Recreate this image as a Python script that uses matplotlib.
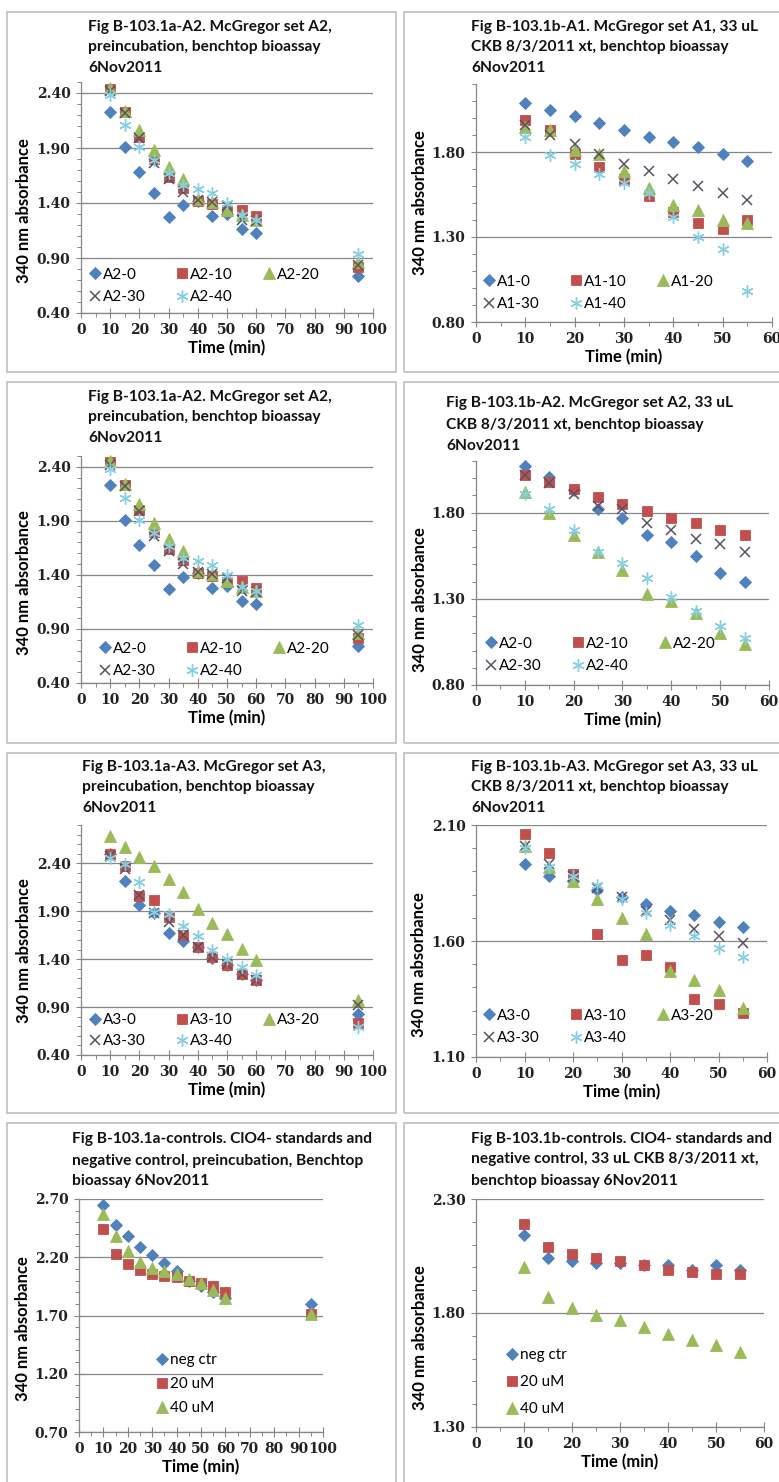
import matplotlib

matplotlib.use("Agg")
import matplotlib.pyplot as plt  # noqa: E402
import numpy as np  # noqa: E402
from matplotlib.patches import Rectangle  # noqa: E402

# ---- data -----------------------------------------------------------------
t_pre = [10, 15, 20, 25, 30, 35, 40, 45, 50, 55, 60, 95]
t_ckb = [10, 15, 20, 25, 30, 35, 40, 45, 50, 55]

# set A2, preincubation
a2_pre_0 = [2.23, 1.91, 1.68, 1.49, 1.27, 1.38, 1.42, 1.28, 1.30, 1.16, 1.13, 0.74]
a2_pre_10 = [2.44, 2.23, 2.00, 1.80, 1.64, 1.54, 1.42, 1.39, 1.33, 1.34, 1.28, 0.82]
a2_pre_20 = [2.45, 2.24, 2.06, 1.88, 1.73, 1.62, 1.44, 1.41, 1.34, 1.29, 1.25, 0.86]
a2_pre_30 = [2.42, 2.22, 1.99, 1.76, 1.62, 1.50, 1.43, 1.41, 1.37, 1.25, 1.24, 0.84]
a2_pre_40 = [2.38, 2.11, 1.91, 1.79, 1.67, 1.56, 1.53, 1.49, 1.40, 1.29, 1.25, 0.94]

# set A1, 33 uL CKB
a1_ckb_0 = [2.09, 2.05, 2.01, 1.97, 1.93, 1.89, 1.86, 1.83, 1.79, 1.75]
a1_ckb_10 = [1.99, 1.93, 1.79, 1.71, 1.64, 1.54, 1.45, 1.38, 1.35, 1.40]
a1_ckb_20 = [1.95, 1.93, 1.81, 1.79, 1.69, 1.59, 1.49, 1.46, 1.40, 1.38]
a1_ckb_30 = [1.96, 1.90, 1.85, 1.79, 1.73, 1.69, 1.64, 1.60, 1.56, 1.52]
a1_ckb_40 = [1.89, 1.78, 1.73, 1.67, 1.62, 1.56, 1.42, 1.30, 1.23, 0.98]

# set A2, 33 uL CKB
a2_ckb_0 = [2.07, 2.01, 1.93, 1.82, 1.77, 1.67, 1.63, 1.55, 1.45, 1.40]
a2_ckb_10 = [2.02, 1.98, 1.94, 1.89, 1.85, 1.81, 1.77, 1.74, 1.70, 1.67]
a2_ckb_20 = [1.92, 1.80, 1.67, 1.57, 1.47, 1.33, 1.29, 1.22, 1.10, 1.04]
a2_ckb_30 = [2.02, 1.97, 1.91, 1.84, 1.82, 1.74, 1.70, 1.65, 1.62, 1.57]
a2_ckb_40 = [1.91, 1.82, 1.70, 1.57, 1.51, 1.42, 1.31, 1.23, 1.14, 1.07]

# set A3, preincubation
a3_pre_0 = [2.50, 2.22, 1.96, 1.88, 1.67, 1.59, 1.53, 1.41, 1.34, 1.25, 1.18, 0.83]
a3_pre_10 = [2.50, 2.37, 2.06, 2.02, 1.84, 1.65, 1.53, 1.42, 1.34, 1.25, 1.18, 0.73]
a3_pre_20 = [2.68, 2.57, 2.47, 2.37, 2.24, 2.10, 1.92, 1.78, 1.66, 1.51, 1.39, 0.97]
a3_pre_30 = [2.48, 2.34, 2.07, 1.88, 1.79, 1.65, 1.53, 1.42, 1.35, 1.25, 1.18, 0.92]
a3_pre_40 = [2.46, 2.39, 2.20, 1.89, 1.87, 1.75, 1.64, 1.50, 1.40, 1.32, 1.23, 0.69]

# set A3, 33 uL CKB
a3_ckb_0 = [1.93, 1.88, 1.86, 1.82, 1.79, 1.76, 1.73, 1.71, 1.68, 1.66]
a3_ckb_10 = [2.06, 1.98, 1.89, 1.63, 1.52, 1.54, 1.49, 1.35, 1.33, 1.29]
a3_ckb_20 = [2.01, 1.92, 1.86, 1.78, 1.70, 1.63, 1.47, 1.43, 1.39, 1.31]
a3_ckb_30 = [2.01, 1.93, 1.88, 1.83, 1.79, 1.73, 1.69, 1.65, 1.62, 1.59]
a3_ckb_40 = [2.00, 1.92, 1.88, 1.84, 1.78, 1.72, 1.67, 1.62, 1.57, 1.53]

# controls
ctl_pre_neg = [2.65, 2.48, 2.38, 2.29, 2.22, 2.15, 2.08, 2.00, 1.95, 1.90, 1.85, 1.80]
ctl_pre_20 = [2.44, 2.23, 2.14, 2.09, 2.06, 2.04, 2.03, 2.00, 1.98, 1.95, 1.90, 1.71]
ctl_pre_40 = [2.57, 2.38, 2.25, 2.16, 2.11, 2.08, 2.06, 2.01, 1.98, 1.92, 1.85, 1.71]
ctl_ckb_neg = [2.14, 2.04, 2.03, 2.02, 2.02, 2.01, 2.01, 1.99, 2.01, 1.99]
ctl_ckb_20 = [2.19, 2.09, 2.06, 2.04, 2.03, 2.01, 1.99, 1.98, 1.97, 1.97]
ctl_ckb_40 = [2.00, 1.87, 1.82, 1.79, 1.77, 1.74, 1.71, 1.68, 1.66, 1.63]

labels_a1 = ["A1-0", "A1-10", "A1-20", "A1-30", "A1-40"]
labels_a2 = ["A2-0", "A2-10", "A2-20", "A2-30", "A2-40"]
labels_a3 = ["A3-0", "A3-10", "A3-20", "A3-30", "A3-40"]
labels_ctl = ["neg ctr", "20 uM", "40 uM"]

titles = [
    "Fig B-103.1a-A2. McGregor set A2,\npreincubation, benchtop bioassay\n6Nov2011",
    "Fig B-103.1b-A1. McGregor set A1, 33 uL\nCKB 8/3/2011 xt, benchtop bioassay\n6Nov2011",
    "Fig B-103.1a-A2. McGregor set A2,\npreincubation, benchtop bioassay\n6Nov2011",
    "Fig B-103.1b-A2. McGregor set A2, 33 uL\nCKB 8/3/2011 xt, benchtop bioassay\n6Nov2011",
    "Fig B-103.1a-A3. McGregor set A3,\npreincubation, benchtop bioassay\n6Nov2011",
    "Fig B-103.1b-A3. McGregor set A3, 33 uL\nCKB 8/3/2011 xt, benchtop bioassay\n6Nov2011",
    "Fig B-103.1a-controls. ClO4- standards and\nnegative control, preincubation, Benchtop\nbioassay 6Nov2011",
    "Fig B-103.1b-controls. ClO4- standards and\nnegative control, 33 uL CKB 8/3/2011 xt,\nbenchtop bioassay 6Nov2011",
]

# ---- styles ---------------------------------------------------------------
W, H = 779, 1482
GREY = "#868686"
STYLES = [
    dict(marker="D", color="#4F81BD", ms=6.4),
    dict(marker="s", color="#C0504D", ms=7.8),
    dict(marker="^", color="#9BBB59", ms=8.0),
    dict(marker="x", color="#5a5060", ms=7.2, mew=1.1),
    dict(marker=(6, 2, 0), color="#86cfe3", ms=8.8, mew=1.0),
]
SANS = "Lato"
SERIF = "DejaVu Serif"

fig = plt.figure(figsize=(W / 100, H / 100), dpi=100)
fig.patch.set_facecolor("white")

# panel frames (pixels: x0, y0, x1, y1)
frames = [
    (7, 12, 396, 372), (404, 12, 790, 372),
    (7, 382, 396, 743), (404, 382, 790, 743),
    (7, 753, 396, 1113), (404, 753, 790, 1113),
    (7, 1123, 396, 1490), (404, 1123, 790, 1490),
]
for x0, y0, x1, y1 in frames:
    fig.add_artist(Rectangle((x0 / W, 1 - y1 / H), (x1 - x0) / W, (y1 - y0) / H,
                             transform=fig.transFigure, fill=False,
                             edgecolor="#c4c4c4", lw=1.3))

# axes boxes in pixels: x0, x1, y_top(ymax), y_bottom(ymin), ylim, xmax
axes_spec = [
    (81, 373, 82, 313, (0.4, 2.5), 100),
    (476, 772, 84, 322, (0.8, 2.2), 60),
    (81, 373, 456, 683, (0.4, 2.5), 100),
    (476, 769, 461, 685, (0.8, 2.1), 60),
    (81, 373, 825, 1055, (0.4, 2.8), 100),
    (476, 767, 825, 1057, (1.1, 2.1), 60),
    (79, 323, 1199, 1432, (0.7, 2.7), 100),
    (476, 764, 1199, 1427, (1.3, 2.3), 60),
]
# title anchor (left x, centre of first line y) in pixels
title_pos = [(88, 25), (471, 25), (88, 395), (446, 402),
             (82, 765), (471, 765), (72, 1138), (471, 1137)]
# y-label centre (pixels, vertical)
ylabel_y = [211, 203, 583, 600, 951, 965, 1329, 1338]
# legend anchor: first marker centre x, last row centre y (pixels)
legend_pos = [(95, 296), (489, 303), (105, 670), (491, 665),
              (95, 1040), (489, 1037), (162, 1407), (512, 1408)]
# legend row spacing (in font-size units)
legend_gap = [0.55, 0.55, 0.55, 0.55, 0.45, 0.55, 0.65, 0.85]

panels = [
    (t_pre, [a2_pre_0, a2_pre_10, a2_pre_20, a2_pre_30, a2_pre_40], labels_a2),
    (t_ckb, [a1_ckb_0, a1_ckb_10, a1_ckb_20, a1_ckb_30, a1_ckb_40], labels_a1),
    (t_pre, [a2_pre_0, a2_pre_10, a2_pre_20, a2_pre_30, a2_pre_40], labels_a2),
    (t_ckb, [a2_ckb_0, a2_ckb_10, a2_ckb_20, a2_ckb_30, a2_ckb_40], labels_a2),
    (t_pre, [a3_pre_0, a3_pre_10, a3_pre_20, a3_pre_30, a3_pre_40], labels_a3),
    (t_ckb, [a3_ckb_0, a3_ckb_10, a3_ckb_20, a3_ckb_30, a3_ckb_40], labels_a3),
    (t_pre, [ctl_pre_neg, ctl_pre_20, ctl_pre_40], labels_ctl),
    (t_ckb, [ctl_ckb_neg, ctl_ckb_20, ctl_ckb_40], labels_ctl),
]

for i, (x, series, labels) in enumerate(panels):
    x0, x1, yt, yb, ylim, xmax = axes_spec[i]
    ax = fig.add_axes([x0 / W, 1 - yb / H, (x1 - x0) / W, (yb - yt) / H])
    ax.set_xlim(0, xmax)
    ax.set_ylim(*ylim)

    handles = []
    for s, y, lab in zip(STYLES, series, labels):
        (h,) = ax.plot(x, y, linestyle="none", marker=s["marker"], ms=s["ms"],
                       color=s["color"], mec=s["color"], mew=s.get("mew", 0.6),
                       label=lab, clip_on=False, zorder=3)
        handles.append(h)

    ax.set_yticks(np.arange(ylim[0], ylim[1] + 1e-6, 0.5))
    ax.set_yticks(np.arange(ylim[0], ylim[1] + 1e-6, 0.1), minor=True)
    ax.set_xticks(np.arange(0, xmax + 1, 10))
    ax.set_xticks(np.arange(0, xmax + 1, 5), minor=True)
    ax.yaxis.set_major_formatter(matplotlib.ticker.FormatStrFormatter("%.2f"))
    ax.grid(axis="y", which="major", color=GREY, lw=0.9)
    ax.set_axisbelow(True)
    for side in ("top", "right"):
        ax.spines[side].set_visible(False)
    for side in ("left", "bottom"):
        ax.spines[side].set_color(GREY)
        ax.spines[side].set_linewidth(0.9)
    ax.tick_params(which="major", direction="inout", length=7, width=0.8, color=GREY,
                   labelsize=10, pad=4)
    ax.tick_params(which="minor", direction="out", length=3, width=0.7, color=GREY)
    for lab in ax.get_xticklabels() + ax.get_yticklabels():
        lab.set_family(SERIF)
        lab.set_fontweight("bold")
        lab.set_color("#222222")

    ax.set_xlabel("Time (min)", family=SANS, fontweight="bold", fontsize=12,
                  labelpad=2)
    ax.set_ylabel("340 nm absorbance", family=SANS, fontweight="bold", fontsize=12,
                  labelpad=3, y=(yb - ylabel_y[i]) / (yb - yt))

    # title: one text per line so the line pitch matches Excel's 21 px
    tx, ty = title_pos[i]
    for k, line in enumerate(titles[i].split("\n")):
        fig.text(tx / W, 1 - (ty + 21 * k) / H, line, family=SANS, fontweight="bold",
                 fontsize=11.2, ha="left", va="center_baseline", color="#111111")

    lx, ly = legend_pos[i]
    fs = 11
    anchor = ((lx - 7) / W, 1 - (ly + 8) / H)
    if len(handles) == 5:
        order = [0, 3, 1, 4, 2]
        ax.legend([handles[k] for k in order], [labels[k] for k in order],
                  ncol=3, loc="lower left", frameon=False,
                  handlelength=0.9, handletextpad=0.1, columnspacing=1.9,
                  labelspacing=legend_gap[i], borderpad=0, borderaxespad=0,
                  bbox_to_anchor=anchor, bbox_transform=fig.transFigure,
                  prop=dict(family=SANS, size=fs))
    else:
        ax.legend(handles, labels, ncol=1, loc="lower left", frameon=False,
                  handlelength=0.9, handletextpad=0.1,
                  labelspacing=legend_gap[i], borderpad=0, borderaxespad=0,
                  bbox_to_anchor=anchor, bbox_transform=fig.transFigure,
                  prop=dict(family=SANS, size=fs))

fig.savefig("out.png", dpi=100)
plt.close(fig)
